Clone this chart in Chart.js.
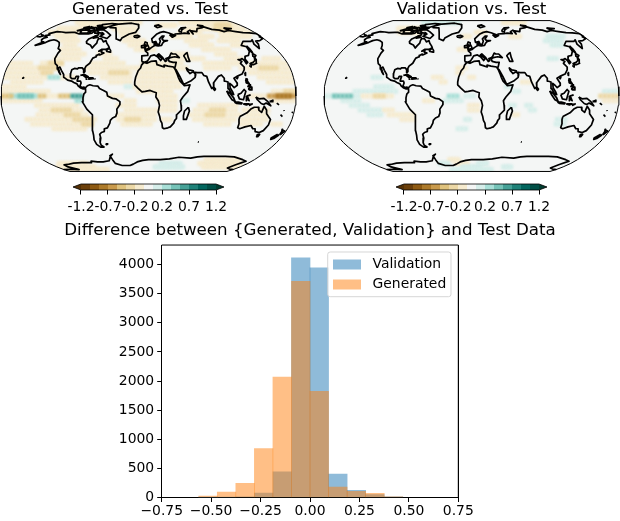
<!DOCTYPE html>
<html><head><meta charset="utf-8">
<script src="https://cdn.jsdelivr.net/npm/chart.js@4"></script>
<style>
html,body{margin:0;padding:0;background:#fff;width:620px;height:521px;overflow:hidden}
canvas{position:absolute;display:block}
</style></head><body>
<canvas id="mapA" style="left:0;top:0" width="300" height="172"></canvas>
<canvas id="mapB" style="left:323px;top:0" width="297" height="172"></canvas>
<canvas id="barA" style="left:60px;top:180px" width="177" height="40"></canvas>
<canvas id="barB" style="left:383px;top:180px" width="177" height="40"></canvas>
<canvas id="hist" style="left:0;top:221px" width="620" height="300"></canvas>
<script>
// ---------- histogram values ----------
const binCenters=[-0.5158,-0.4220,-0.3282,-0.2344,-0.1406,-0.0468,0.0470,0.1408,0.2346,0.3284,0.4222];
const validationCounts=[2,4,12,75,440,4115,3945,400,125,50,10];
const generatedCounts=[25,92,245,838,2066,3712,1822,178,104,70,10];
const histXTicks=[-0.75,-0.5,-0.25,0,0.25,0.5,0.75];
const histYTicks=[0,500,1000,1500,2000,2500,3000,3500,4000];
// ---------- colour bar ----------
const cbTicks=[-1.2,-0.72,-0.24,0.24,0.72,1.2];
const cbLabels=['-1.2','-0.7','-0.2','0.2','0.7','1.2'];
const cbColors=['#6b3f0a','#8e5a12','#ad7a2a','#c99a4c','#dfc27d','#ecd8a6','#f6ebcf','#f4f6f5','#d6eeea','#a8dfd7','#76c3b8','#46a197','#1f8279','#02665e','#014f46'];
// ---------- difference fields: [lat, lon from, lon to, value] ----------
const genField=[
[85,-150,-20,-.15],[85,70,170,-.15],
[80,-130,-60,-.15],[80,20,50,-.15],[80,100,170,-.15],[80,135,155,-.3],
[75,-160,-115,-.15],[75,-60,-25,-.15],[75,70,170,-.15],[75,125,145,-.3],
[70,-165,-125,-.15],[70,-45,-25,-.15],[70,55,85,-.15],[70,125,170,-.15],
[65,-145,-120,-.15],[65,-40,-20,-.15],[65,40,65,-.15],[65,85,100,-.15],[65,120,160,-.15],
[60,-130,-110,-.15],[60,-35,-10,-.15],[60,60,85,-.15],[60,110,135,-.15],
[55,-120,-110,-.15],[55,-25,0,-.15],[55,65,90,-.15],[55,125,135,-.15],
[50,-120,-100,-.15],[50,-15,5,-.15],[50,80,110,-.15],
[45,-115,-90,-.15],[45,-65,-55,-.15],[45,35,50,-.15],[45,95,115,-.15],
[40,-120,-95,-.15],[40,-55,-45,-.15],[40,35,70,-.15],[40,105,120,-.15],[40,155,170,-.15],
[35,-175,-155,-.15],[35,-135,-112,-.15],[35,-128,-115,-.3],[35,-70,-35,-.15],[35,-5,40,-.15],[35,75,115,-.15],[35,135,175,-.15],
[30,-178,-118,-.15],[30,-135,-120,-.3],[30,-75,-20,-.15],[30,-10,45,-.15],[30,75,100,-.15],[30,120,178,-.15],[30,145,160,-.3],
[25,-178,-122,-.15],[25,-130,-122,-.3],[25,-70,-22,-.15],[25,-45,-30,-.3],[25,-12,30,-.15],[25,130,178,-.15],
[20,-175,-130,-.15],[20,-105,-92,-.15],[20,-55,-25,-.15],[20,-12,30,-.15],[20,140,178,-.15],[20,-122,-113,.3],
[15,-165,-135,-.15],[15,-45,-25,-.15],[15,-12,35,-.15],[15,150,178,-.15],
[10,-175,-155,-.15],[10,-15,35,-.15],[10,-27,-23,.15],
[5,-178,-125,-.15],[5,-10,25,-.15],[5,155,178,-.15],[5,168,178,-.3],
[0,-178,-168,-.45],[0,-165,-138,.3],[0,-155,-145,.45],[0,-132,-127,-.45],[0,-122,-112,-.15],[0,-108,-97,-.4],[0,-92,-83,.6],[0,-47,-33,-.15],[0,15,30,-.15],[0,125,145,-.15],[0,150,178,-.6],[0,160,172,-.75],
[-5,-175,-135,-.15],[-5,-87,-82,.3],[-5,-27,-17,-.15],[-5,15,30,-.15],[-5,42,47,.15],[-5,155,178,-.15],
[-10,-135,-90,-.15],[-10,-37,-20,-.15],[-10,20,30,-.15],[-10,65,105,-.15],
[-15,-130,-85,-.15],[-15,-115,-100,-.3],[-15,-25,10,-.15],[-15,20,30,-.15],[-15,60,108,-.15],[-15,120,145,-.15],[-15,80,90,-.3],
[-20,-135,-80,-.15],[-20,-100,-88,-.3],[-20,-37,5,-.15],[-20,55,110,-.15],[-20,125,145,-.15],[-20,75,90,-.3],
[-25,-150,-70,-.15],[-25,-90,-75,-.3],[-25,-37,5,-.15],[-25,-25,-12,-.3],[-25,18,27,-.15],[-25,60,105,-.15],[-25,118,145,-.15],
[-30,-145,-75,-.15],[-30,-82,-72,-.3],[-30,-30,0,-.15],[-30,75,100,-.15],[-30,120,140,-.15],[-30,158,168,-.15],
[-35,-120,-85,-.15],
[-70,100,150,-.15],
[-75,-160,-115,-.15],[-75,25,55,.15],[-75,95,165,-.15],
[-80,-178,-110,-.15],[-80,15,65,.15],[-80,110,170,-.15],
[-85,-165,-90,-.15]
];
const valField=[
[85,-100,-30,.15],[85,70,110,-.15],[75,-130,-90,-.15],[70,-120,-90,-.15],[70,10,20,-.15],
[65,-12,-5,-.15],[65,62,78,-.15],[65,125,145,.15],[60,115,135,.15],[55,118,132,.15],[50,-17,-7,-.15],
[40,102,112,.15],[30,-18,-8,-.15],[25,-18,-12,-.15],[20,-122,-112,.15],[20,-47,-38,-.15],[20,-3,3,-.15],
[15,62,72,-.15],[15,-37,-32,-.15],[10,-117,-100,.15],[10,42,48,.15],
[5,-140,-95,.15],[5,52,58,.15],[5,162,175,.15],
[0,-175,-168,.15],[0,-165,-150,.45],[0,-148,-138,.15],[0,-132,-97,-.15],[0,-118,-107,-.3],[0,-27,-18,.3],[0,-8,2,.15],[0,158,178,-.3],
[-5,-155,-138,.15],[-5,-57,-47,-.15],[-5,-32,-12,.15],[-5,165,178,-.15],
[-10,-145,-130,.15],[-10,-3,8,-.15],[-10,67,73,.15],[-10,47,53,.15],
[-15,-135,-115,.15],[-15,-107,-98,-.15],[-15,-3,5,-.15],[-15,72,78,.15],
[-20,-125,-112,.15],[-20,-102,-93,-.15],[-20,-85,-75,-.15],[-20,52,58,-.15],
[-25,-85,-75,-.15],[-25,110,116,.15],[-25,-7,-3,.15],
[-30,107,116,.15],[-35,-17,-8,.15],
[-70,-35,-25,-.15],[-75,-27,-10,-.15],[-75,12,27,.15],[-75,-55,-45,.15],[-80,-15,15,.15],[-80,62,75,.15],[-85,-40,40,.15]
];
// ---------- coastline rings [lon, lat, lon, lat, ...] ----------
const coastRings=[
[-168,66,-162,67,-166,68.5,-157,71,-148,70.5,-140,69.7,-130,70,-125,70,-115,68,-108,68,-100,68,-95,69,-94,72,-90,69,-85,69.5,-82,67,-87,65,-93,62,-94,59,-92,57,-85,55,-82,53,-80,51.5,-79,54,-77,57,-78,60,-78,62.5,-73,62,-70,60,-68,58.5,-65,60,-62,57,-58,54,-56,52,-60,50,-66,50,-69,48,-65,49,-65,47,-61,46,-66,44,-67,45,-70,43.5,-70,42,-74,40.5,-75,38,-76,35,-80,32,-81,29,-80,26,-81,25,-82,28,-84,30,-89,30,-90,29,-94,29.5,-97,28,-97.5,24,-97,20,-95,18.5,-91,18.5,-90,21,-87,21,-88,17,-88,16,-84,16,-83,14,-84,11,-82,9,-79,9.5,-77,8.5,-78,7.5,-80,7.5,-83,8.5,-86,10.5,-88,13,-92,14.5,-95,16,-100,17,-105,20,-106,23,-110,27.5,-113,31,-114.7,30,-112,26,-110,23,-112,25,-115,29,-117,32.5,-120.5,34.5,-122.5,37.5,-124,40,-124,46,-123,49,-128,51,-130,54.5,-134,58,-140,60,-146,61,-151,60,-154,58,-160,55.5,-165,54.5,-158,58.5,-162,59,-165,61,-165,63,-161,64,-166,65,-168,66],
[-78,8,-75,11,-72,12,-68,11,-62,10.5,-60,8,-55,6,-51,4,-50,0,-44,-2.5,-40,-3,-35,-6,-35,-9,-39,-14,-39,-18,-41,-22,-45,-23.5,-48,-26,-49,-29,-53,-34,-57,-35,-58,-38,-62,-39,-65,-41,-65,-45,-68,-50,-68,-53,-65,-55,-70,-55,-74,-52,-75,-47,-73.5,-42,-73,-37,-71,-30,-70,-20,-76,-14,-81,-6,-80,-2,-79,2,-77,4,-77,7,-78,8],
[-6,36,-2,35,3,37,10,37.5,11,33.5,15,32.5,20,31,20,33,25,32,32,31,34,28,36,23,37,20,39,16,43,12,44,11,51,12,48,5,42,-1,39,-5,40,-10,40.5,-15,35,-20,35,-24,33,-26,32,-29,28,-33,25,-34,20,-35,18,-34,17,-29,15,-26,14,-22,12,-17,13.5,-10,12,-5,9,-1,9.5,3.5,6,4.5,2,6,-4,5,-8,4.5,-13,8.5,-17,12,-17,15,-16,20,-13,27,-10,30,-9,33,-6,36],
[-9,37,-9,43,-2,43.5,-1,46,-4.5,48.5,1,50,4,52,8,54,8.5,57,10.5,57.5,10,54.5,14,54,19,54.5,21,57,24,59,29,60,23,60,21,62,25,65.5,22,65.5,17,62,18,59.5,16,56,13,55.5,11,59,6,58,5,62,14,68,20,70,26,71,33,69.5,41,67,35,66.5,38,64,44,66,44,68,54,68.5,60,69,68,68.5,67,71,73,73,74,68,75,72,83,71,88,75,100,76.5,104,77.5,113,74,125,73,130,71,140,72.5,150,71,160,69.7,170,69.5,180,68.5,180,65,177,64.5,179,62.5,170,60,163,59.5,162,56,157,51,155.5,56,160,61,155,59,143,59,135,54.5,141,53,140,48,135,43.5,130,42.5,127.5,39.5,129,36,126.5,34.5,126,37.5,124,40,121,39,118,39,122,37,119,35,122,31,121,28,117,23.5,110,21,106,19,109,14,109,11.5,105,9,103,11,100,13.5,100,9,103,4,104,1.5,101,3,98,8,98,15,94,16,94,19,91,22.5,87,21,82,16,80,14,80,10,77.5,8,74,15,72.5,21,69,22,67,25,61,25,57,25.5,56.5,27,51,28,48,30,49,27,51,25,52,24,56,26,59,23,58,20,52,16,45,13,43,13,39,21,35,28,32.5,30,34,31,36,36,32,36,27,37,26,40,29,41,35,42,41,41,37,45,33,45,31,46,28,42,26,40.8,23,40,24,38,22,37,19,41,14,45,12,44,18,40,16,38,12,42,8,44,3,43,0,39,-2,37,-5.5,36,-9,37],
[-180,68.5,-175,67,-170,66,-173,64.5,-180,65],
[-73,78,-60,82,-35,83.5,-20,81,-18,76,-22,70,-32,68,-42,63,-43,60,-50,62,-53,67,-55,70,-60,76,-70,76.5,-73,78],
[-80,73.5,-72,71,-62,66.5,-65,62.5,-72,64,-78,65,-74,68,-85,70,-89,73,-80,73.5],
[-117,73,-105,73,-102,69,-115,69,-117,73],
[-90,77,-78,77,-62,82,-75,83,-92,81,-90,77],
[-125,72,-118,74.5,-116,73,-125,72],
[-96,76,-80,75,-92,74,-96,76],
[-100,79,-92,80,-87,78,-94,78,-100,79],
[-117,76,-106,75,-106,76.5,-117,76],
[-95,74,-90,72,-95,72,-95,74],
[-85,65,-80,64,-87,63,-85,65],
[-110,78,-100,76,-105,75.5,-110,78],
[-104,72,-98,73,-100,70,-104,72],
[-80,70,-76,69,-79,68,-80,70],
[-120,76,-112,78,-116,75.5,-120,76],
[-93,76.5,-88,76.5,-90,75.5,-93,76.5],
[-102,76,-98,76.5,-99,75,-102,76],
[-84,76,-78,76,-80,74.5,-84,76],
[-112,75,-108,74,-113,73.5,-112,75],
[-59,48,-53,47,-53,49,-56,51.5,-59,48],
[-24,65.5,-18,66.3,-14,65,-18,63.5,-22,64,-24,65.5],
[-5,50,1,51,0,53,-2,56,-2,57.5,-5,58.5,-6,56,-3,54,-5,52,-5,50],
[-10,52,-6,52,-6,55,-10,54,-10,52],
[11,79,20,80.5,25,78,16,76.5,11,79],
[52,71,56,70.7,60,74,69,76.5,60,76,54,73,52,71],
[95,80,105,79,100,78,95,80],
[138,76,145,75.5,150,75,140,73.8,138,76],
[142,54,143,50,143,46.5,142,47,142,52,142,54],
[130.5,34,135,33.5,140,35,142,39,141,41,139.5,38,136,36,132,35,130.5,34],
[140,42,142,45.5,145,43.5,143,42,140,42],
[130,33,132,33,131,31,130,32,130,33],
[120,23,121.5,25,121,22,120,23],
[109,19.5,111,20,110,18.5,109,19.5],
[120,16,121,18.5,122,18,122,16,124,13,120.5,14,120,16],
[122,7.5,126,9.5,126.5,6.5,124,6.5,122,7.5],
[122,11,125,12,125,10,122,10,122,11],
[95.5,5.5,100,2.5,104,-2,106,-6,102,-4,98,1,95.5,5.5],
[105,-6.5,110,-6.5,114.5,-7.5,114,-8.5,108,-8,105,-6.5],
[109,1.5,113,3,117,7,119,5,117.5,1,116,-4,111,-3,109,1.5],
[119.5,0,124,1,120.5,0,121.5,-2,123,-5,120.5,-3,119.5,-5,119.5,0],
[131,-1,135,-3,141,-2.5,146,-6,150,-10.5,144,-7.5,141,-9,138,-8,133,-4,131,-1],
[124,-9,127,-8.5,124,-10,124,-9],
[116,-8.5,120,-8.5,123,-8.5,120,-9.5,116,-8.5],
[148,-6,152,-4.5,152,-6,148,-6],
[157,-7.5,160,-9.5],
[167,-15,167.5,-16],
[164,-20,167,-22],
[177.5,-18,178.5,-17],
[80,9.5,82,7.5,81,6,80,7,80,9.5],
[49,-12,50.5,-16,47.5,-25,44,-25,43.5,-21,44.5,-16,49,-12],
[114,-22,122,-18,126,-14,130,-12,135,-12,136,-15,140,-17.5,142,-11,145.5,-15,146.5,-19,153,-25,153,-31,150,-37,146,-39,140,-38,138,-35,135,-35,131,-31.5,124,-33,118,-35,115,-34,115,-30,113.5,-25,114,-22],
[145,-41,148,-41,147.5,-43.5,146,-43.5,145,-41],
[173,-35,176,-37,178.5,-37.5,176,-41,175,-41,175,-38,173,-35],
[172,-41,174,-42,171,-45.5,168,-46.5,167,-45,172,-41],
[69,-49,70.5,-49.5],
[-61,-51.5,-58,-51.5,-60,-52.3,-61,-51.5],
[-85,22,-80,23,-75,20.5,-78,20,-82,22.5,-85,22],
[-74,19.8,-69,19.5,-68.5,18.5,-74,18,-74,19.8],
[-78,18.3,-76.5,18,-78,18],
[-67,18.4,-65.6,18.2],
[-156,20,-155,19.5,-156,19,-156,20],
[50,45,53,46.5,53,41,54,37,50,37,49,40,47.5,43,50,45],
[-180,-84.7,-165,-84.3,-148,-85,-158,-80,-158,-77,-150,-76.5,-135,-74.5,-120,-74,-102,-74,-100,-72,-90,-73,-80,-73,-68,-71.5,-62,-66,-57,-63.3,-62,-65,-61,-70,-60,-75,-50,-78,-35,-78,-28,-76,-20,-73,-10,-71,0,-70,20,-70,35,-69,50,-67,70,-68,80,-66.5,90,-66,110,-66,125,-66,140,-66.5,160,-70,170,-72,163,-77,160,-82,170,-84,180,-84.7]
];
// ---------- Robinson projection tables (every 5 degrees) ----------
const robX=[1,.9986,.9954,.99,.9822,.973,.96,.9427,.9216,.8962,.8679,.835,.7986,.7597,.7186,.6732,.6213,.5722,.5322];
const robY=[0,.062,.124,.186,.248,.31,.372,.434,.4958,.5571,.6176,.6769,.7346,.7903,.8435,.8936,.9394,.9761,1];
function project(lon,lat){
  const a=Math.min(Math.abs(lat),90)/5,i=Math.min(Math.floor(a),17),f=a-i;
  const X=robX[i]+(robX[i+1]-robX[i])*f,Y=robY[i]+(robY[i+1]-robY[i])*f;
  return {x:.8487*X*lon*Math.PI/180,y:1.3523*Y*Math.sign(lat)};
}
Chart.defaults.font.family="'DejaVu Sans'";
Chart.defaults.color='#000';
Chart.defaults.animation=false;
Chart.defaults.responsive=false;
Chart.defaults.layout.autoPadding=false;

const levelColor=v=>cbColors[Math.max(0,Math.min(14,Math.floor((v+1.2)/.16)))];
function frameSide(sign){
  const p=[];
  for(let lat=0;lat<=90;lat+=5)p.push(project(-180,sign*lat));
  for(let lat=90;lat>=0;lat-=5)p.push(project(180,sign*lat));
  return p;
}
const softField={id:'softField',
  beforeDatasetDraw(c,a){
    if(a.meta.label!=='field')return;
    const sx=c.scales.x,sy=c.scales.y,g=c.ctx;
    g.save();g.beginPath();
    frameSide(1).concat(frameSide(-1).reverse()).forEach((p,i)=>{
      const X=sx.getPixelForValue(p.x),Y=sy.getPixelForValue(p.y);
      i?g.lineTo(X,Y):g.moveTo(X,Y);
    });
    g.closePath();g.clip();
    g.filter='blur(1px)';
  },
  afterDatasetDraw(c,a){ if(a.meta.label==='field')c.ctx.restore(); }
};
function makeMap(id,title,field){
  const coast=[];
  coastRings.forEach(r=>{
    for(let i=0;i<r.length;i+=2)coast.push(project(r[i],r[i+1]));
    coast.push({x:NaN,y:NaN});
  });
  const cells=[];
  field.slice().sort((a,b)=>Math.abs(a[3])-Math.abs(b[3])).forEach(s=>{
    for(let lon=-177.5;lon<180;lon+=5)
      if(lon>=s[1]-2.5&&lon<=s[2]+2.5){const p=project(lon,s[0]);cells.push({x:p.x,y:p.y,c:levelColor(s[3])});}
  });
  const line={type:'scatter',showLine:true,pointRadius:0,clip:false};
  new Chart(document.getElementById(id),{
    type:'scatter',
    data:{datasets:[
      {...line,label:'coast',data:coast,borderColor:'#000',borderWidth:1.7,borderJoinStyle:'round',spanGaps:false,order:1},
      {...line,label:'edgeTop',data:frameSide(1),borderColor:'#000',borderWidth:1,order:2},
      {...line,label:'edgeBottom',data:frameSide(-1),borderColor:'#000',borderWidth:1,order:2},
      {type:'scatter',label:'field',data:cells,pointStyle:'rect',pointRadius:3.3,pointBorderWidth:0,borderWidth:0,
        pointBackgroundColor:cells.map(d=>d.c),order:3},
      {...line,label:'seaTop',data:frameSide(1),borderWidth:0,fill:'origin',backgroundColor:cbColors[7],order:4},
      {...line,label:'seaBottom',data:frameSide(-1),borderWidth:0,fill:'origin',backgroundColor:cbColors[7],order:4}
    ]},
    options:{
      layout:{padding:0},
      plugins:{legend:{display:false},tooltip:{enabled:false},
        title:{display:true,text:title,font:{size:16.7,weight:'normal'},color:'#000',padding:{top:0,bottom:0}}},
      scales:{
        x:{type:'linear',display:false,min:-148.5/55.32,max:(id==='mapA'?151.5:148.5)/55.32},
        y:{type:'linear',display:false,min:-1.362,max:1.362}
      }
    },
    plugins:[softField]
  });
}
function makeColorbar(id){
  const step=.16,ext=.142,start=-1.2;
  const ds=cbColors.map((c,i)=>({type:'scatter',showLine:true,pointRadius:0,borderWidth:0,fill:'origin',backgroundColor:c,
    data:[{x:start+i*step,y:1},{x:start+(i+1)*step,y:1}]}));
  const tri=(x0,x1,c)=>[0,1].map(y=>({type:'scatter',showLine:true,pointRadius:0,borderWidth:0,fill:{value:.5},backgroundColor:c,
    data:x0<x1?[{x:x0,y:.5},{x:x1,y:y}]:[{x:x1,y:y},{x:x0,y:.5}]}));
  const outline={type:'scatter',showLine:true,pointRadius:0,borderColor:'#000',borderWidth:.8,clip:false,order:-1,
    data:[{x:-1.2,y:0},{x:-1.2-ext,y:.5},{x:-1.2,y:1},{x:1.2,y:1},{x:1.2+ext,y:.5},{x:1.2,y:0},{x:-1.2,y:0}]};
  new Chart(document.getElementById(id),{
    type:'scatter',
    data:{datasets:[outline,...ds,...tri(-1.2-ext,-1.2,'#543005'),...tri(1.2+ext,1.2,'#003c30')]},
    options:{
      layout:{padding:{left:13,right:13,top:4,bottom:0}},
      plugins:{legend:{display:false},tooltip:{enabled:false}},
      scales:{
        y:{display:false,min:0,max:1},
        x:{type:'linear',min:-1.2-ext,max:1.2+ext,
          afterBuildTicks:s=>{s.ticks=cbTicks.map(v=>({value:v}));},
          afterFit:s=>{s.height=30;},
          ticks:{autoSkip:false,maxRotation:0,padding:5,font:{size:13.9},color:'#000',
            callback:v=>cbLabels[cbTicks.indexOf(v)]},
          border:{display:false},
          grid:{drawOnChartArea:false,drawTicks:true,tickLength:4.5,tickColor:'#000',tickWidth:1}
        }
      }
    }
  });
}
const legendPlace={id:'legendPlace',
  beforeLayout(c){
    const l=c.legend;
    l._layers=()=>[{z:1,draw:a=>l.draw(a)}];
  },
  afterLayout(c){
    const l=c.legend;const w=l.width,h=l.height;
    l.left=326.9;l.top=30.5;l.right=l.left+w;l.bottom=l.top+h;
  },
  afterDatasetsDraw(c){
    const g=c.ctx;g.save();g.beginPath();
    g.roundRect(327.7,252-221,123.3,44.7,2.5);
    g.fillStyle='rgba(255,255,255,.8)';g.fill();
    g.strokeStyle='rgba(204,204,204,.8)';g.lineWidth=1;g.stroke();g.restore();
  }
};
const pts=a=>a.map((y,i)=>({x:binCenters[i],y}));
new Chart(document.getElementById('hist'),{
  type:'bar',
  data:{datasets:[
    {label:'Validation',data:pts(validationCounts),backgroundColor:'rgba(31,119,180,.5)',order:2,grouped:false,barPercentage:1,categoryPercentage:1},
    {label:'Generated',data:pts(generatedCounts),backgroundColor:'rgba(255,127,14,.5)',order:1,grouped:false,barPercentage:1,categoryPercentage:1}
  ]},
  options:{
    layout:{padding:0},
    plugins:{
      tooltip:{enabled:false},
      title:{display:true,text:'Difference between {Generated, Validation} and Test Data',font:{size:16.7,weight:'normal'},color:'#000',padding:{top:0,bottom:4}},
      legend:{position:'chartArea',align:'start',
        labels:{boxWidth:28,boxHeight:10,padding:6.1,font:{size:13.9},color:'#000',
          sort:(a,b)=>a.datasetIndex-b.datasetIndex,
          generateLabels(chart){
            return Chart.defaults.plugins.legend.labels.generateLabels(chart).map(i=>({...i,text:'\u2004'+i.text}));
          }}}
    },
    scales:{
      x:{type:'linear',min:-.75,max:.75,offset:false,
        afterBuildTicks:s=>{s.ticks=histXTicks.map(v=>({value:v}));},
        afterFit:s=>{s.height=23.5;},
        ticks:{autoSkip:false,maxRotation:0,padding:1,font:{size:13.9},color:'#000',
          callback:v=>(v<0?'\u2212':'')+Math.abs(v).toFixed(2)},
        grid:{offset:false,drawOnChartArea:false,tickLength:4.5,tickColor:'#000'},
        border:{color:'#000',width:1}
      },
      y:{min:0,max:4335,
        afterBuildTicks:s=>{s.ticks=histYTicks.map(v=>({value:v}));},
        afterFit:s=>{s.width=161.7;},
        ticks:{padding:3,font:{size:13.9},color:'#000',callback:v=>String(v)},
        grid:{drawOnChartArea:false,tickLength:4.5,tickColor:'#000'},
        border:{color:'#000',width:1}
      },
      rightEdge:{position:'right',display:true,min:0,max:1,
        afterBuildTicks:s=>{s.ticks=[];},
        afterFit:s=>{s.width=161.7;},
        ticks:{display:false},
        grid:{display:false},
        border:{display:true,color:'#000',width:1}
      }
    }
  },
  plugins:[legendPlace,{id:'topEdge',afterDatasetsDraw(c){
    const a=c.chartArea,g=c.ctx;g.save();g.strokeStyle='#000';g.lineWidth=1;
    g.beginPath();g.moveTo(a.left,a.top);g.lineTo(a.right,a.top);g.lineTo(a.right,a.bottom);g.stroke();g.restore();}}]
});
makeMap('mapA','Generated vs. Test',genField);
makeMap('mapB','Validation vs. Test',valField);
makeColorbar('barA');
makeColorbar('barB');
</script>
</body></html>
